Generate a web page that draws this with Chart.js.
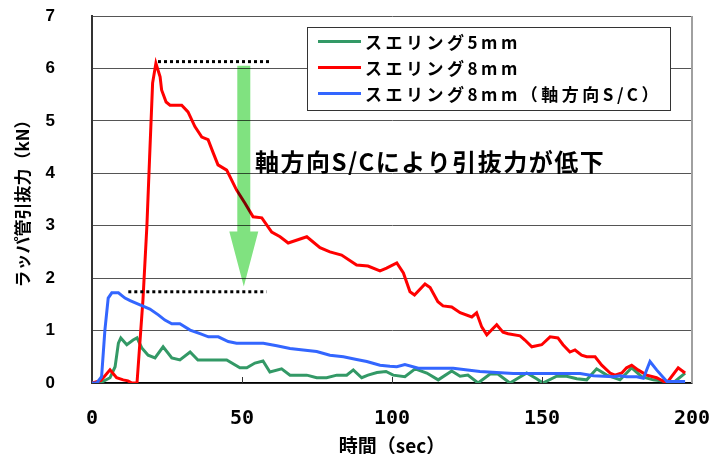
<!DOCTYPE html>
<html lang="ja">
<head>
<meta charset="utf-8">
<script src="https://cdn.jsdelivr.net/npm/chart.js@4"></script>
<style>
    html, body { margin: 0; padding: 0; background: #fff; }
    #wrap { width: 711px; height: 454px; position: relative; }
</style>
</head>
<body>
<div id="wrap"><canvas id="pullChart"></canvas></div>
<script>
// Series labels
const seriesLabels = ["スエリング5mm", "スエリング8mm", "スエリング8mm（軸方向S/C）"];

// スエリング5mm
const time5mm = [0, 2.7, 6, 7.7, 8.8, 9.6, 11.6, 13.7, 15, 16.6, 18.7, 21, 23.7, 26.6, 29.3, 32.7, 35.3, 44.9, 49.3, 51.6,
    54.3, 57, 59.3, 63.2, 66, 71.6, 74.9, 78.2, 81.6, 84.9, 87.1, 89.9, 92, 95, 98, 100.4, 104.3, 107.7, 111.6, 115.4,
    119.9, 122.7, 125.3, 128.7, 132.7, 135.3, 139.3, 144.9, 148.2, 150.3, 154.9, 158.2, 161.6, 164.9, 168.2, 171.6, 176,
    179.9, 183.2, 187.1, 190.3, 193.7, 197.7];
const force5mm = [0, 0, 0.1, 0.31, 0.76, 0.86, 0.73, 0.82, 0.86, 0.67, 0.53, 0.48, 0.69, 0.48, 0.44, 0.59, 0.44, 0.44, 0.29, 0.29,
    0.38, 0.42, 0.21, 0.27, 0.15, 0.15, 0.1, 0.1, 0.15, 0.15, 0.25, 0.1, 0.15, 0.2, 0.22, 0.15, 0.12, 0.27, 0.19, 0.06,
    0.23, 0.13, 0.15, 0, 0.17, 0.17, 0, 0.19, 0.08, 0, 0.13, 0.13, 0.08, 0.06, 0.27, 0.15, 0.06,
    0.29, 0.12, 0.06, 0.04, 0, 0.19];

// スエリング8mm
const time8mm = [0, 3, 6, 8.2, 10.4, 12, 13.3, 15, 17, 18.3, 19.2, 20.2, 21.3, 22.7, 23.2, 24.7, 26, 29.9, 32, 34.3, 36.6,
    38.7, 40.4, 42, 44.9, 48.2, 51, 53.7, 56.6, 59.9, 62.7, 65.4, 71.6, 76, 79.3, 83.2, 88.2, 92, 96, 98.2, 101.6, 103.8,
    106, 107.5, 111, 112.7, 115.3, 117, 119.9, 122.7, 126.6, 128.2, 129.9, 131.6, 134.9, 137, 138.7, 142.7, 144.3, 146.6,
    149.9, 152.7, 155.3, 157, 159.3, 161, 163.2, 164.9, 167.7, 169.9, 172.7, 174.3, 176.6, 178.2, 179.9, 182, 184.9,
    188.2, 191.6, 195.4, 197.7];
const force8mm = [0, 0.05, 0.25, 0.1, 0.06, 0.04, 0, 0, 1.6, 3.0, 4.3, 5.72, 6.1, 5.84, 5.59, 5.36, 5.3, 5.3, 5.17, 4.89, 4.69,
    4.64, 4.39, 4.16, 4.06, 3.68, 3.43, 3.17, 3.15, 2.88, 2.79, 2.67, 2.79, 2.58, 2.5, 2.44, 2.25, 2.23, 2.14, 2.19, 2.29, 2.1,
    1.74, 1.68, 1.89, 1.82, 1.55, 1.47, 1.45, 1.34, 1.26, 1.34, 1.07, 0.92, 1.11, 0.97, 0.94, 0.9, 0.82, 0.69,
    0.73, 0.88, 0.86, 0.73, 0.59, 0.63, 0.53, 0.5, 0.5, 0.34, 0.19, 0.15, 0.19, 0.29, 0.34, 0.25, 0.15,
    0.1, 0, 0.29, 0.19];

// スエリング8mm（軸方向S/C）
const time8mmSC = [0, 1.6, 3.2, 4.3, 5.4, 6.6, 8.8, 11, 12.7, 16, 19.3, 22.1, 24.3, 26.6, 29.3, 32.7, 36, 38.8, 42.1, 45.4,
    48.2, 57.1, 61.6, 66, 70.4, 74.9, 79.3, 83.8, 88.2, 91.6, 96, 99.3, 101.6, 104.3, 108.8, 120.4, 129.3, 140.4, 162.7,
    167.1, 173.8, 176, 178.2, 181.6, 183.8, 186, 188.2, 191.6, 197.7];
const force8mmSC = [0, 0, 0.12, 1.01, 1.62, 1.72, 1.72, 1.62, 1.57, 1.49, 1.41, 1.3, 1.2, 1.13, 1.13, 1.01, 0.94, 0.88, 0.88, 0.79,
    0.76, 0.76, 0.71, 0.66, 0.63, 0.6, 0.53, 0.5, 0.45, 0.41, 0.34, 0.32, 0.31, 0.35, 0.28, 0.28, 0.22, 0.18, 0.18,
    0.14, 0.12, 0.14, 0.12, 0.12, 0.09, 0.41, 0.25, 0.03, 0.03];

// Axis ticks
const xTicks = [0, 50, 100, 150, 200];
const yTicks = [0, 1, 2, 3, 4, 5, 6, 7];

// Annotation (data units)
const noteText = "軸方向S/Cにより引抜力が低下";
const peakLevels = [6.13, 1.74];
const peakRanges = [[22, 59.7], [12.1, 58.2]];
const arrowFrom = [50.6, 6.05];
const arrowTo = [50.6, 1.84];

const colors = ["#339966", "#ff0000", "#3366ff"];
const cjk = "'Noto Sans CJK JP', 'Noto Sans', sans-serif";

const toPoints = (xs, ys) => xs.map((x, i) => ({ x: x, y: ys[i] }));

const dataSets = [
    toPoints(time5mm, force5mm),
    toPoints(time8mm, force8mm),
    toPoints(time8mmSC, force8mmSC)
];

// keep the plot box where the original has it
const noPad = s => { s.paddingLeft = s.paddingRight = s.paddingTop = s.paddingBottom = 0; };

// Dotted lines, arrow, note, legend, right border, x inner ticks
const overlayPlugin = {
    id: "overlay",
    afterDatasetsDraw(chart) {
        const { ctx, chartArea: a, scales: { x, y } } = chart;
        ctx.save();

        // right frame
        ctx.strokeStyle = "#a0a0a0";
        ctx.lineWidth = 2;
        ctx.beginPath();
        ctx.moveTo(a.right, a.top);
        ctx.lineTo(a.right, a.bottom);
        ctx.stroke();

        // inner ticks on x axis
        ctx.strokeStyle = "#333";
        ctx.lineWidth = 1;
        xTicks.slice(1, -1).forEach(v => {
            const px = Math.round(x.getPixelForValue(v)) + 0.5;
            ctx.beginPath();
            ctx.moveTo(px, a.bottom);
            ctx.lineTo(px, a.bottom - 6);
            ctx.stroke();
        });

        // dotted peak lines
        ctx.strokeStyle = "#000";
        ctx.lineWidth = 3;
        ctx.setLineDash([3, 3]);
        peakLevels.forEach((lv, i) => {
            const py = y.getPixelForValue(lv);
            ctx.beginPath();
            ctx.moveTo(x.getPixelForValue(peakRanges[i][0]), py);
            ctx.lineTo(x.getPixelForValue(peakRanges[i][1]), py);
            ctx.stroke();
        });
        ctx.setLineDash([]);

        // green arrow
        const ax = x.getPixelForValue(arrowFrom[0]);
        const top = y.getPixelForValue(arrowFrom[1]);
        const tip = y.getPixelForValue(arrowTo[1]);
        const headH = 55, shaftW = 13, headW = 29;
        ctx.globalCompositeOperation = "multiply";
        ctx.fillStyle = "rgb(128,226,128)";
        ctx.beginPath();
        ctx.moveTo(ax - shaftW / 2, top);
        ctx.lineTo(ax + shaftW / 2, top);
        ctx.lineTo(ax + shaftW / 2, tip - headH);
        ctx.lineTo(ax + headW / 2, tip - headH);
        ctx.lineTo(ax, tip);
        ctx.lineTo(ax - headW / 2, tip - headH);
        ctx.lineTo(ax - shaftW / 2, tip - headH);
        ctx.closePath();
        ctx.fill();
        ctx.globalCompositeOperation = "source-over";

        // note
        ctx.fillStyle = "#000";
        ctx.font = "bold 24px " + cjk;
        ctx.letterSpacing = "1.5px";
        ctx.textBaseline = "middle";
        ctx.textAlign = "left";
        ctx.fillText(noteText, 255, 162);

        // legend
        const lx = 307, ly = 27, lw = 363, lh = 83;
        ctx.fillStyle = "#fff";
        ctx.fillRect(lx, ly, lw, lh);
        ctx.strokeStyle = "#333";
        ctx.lineWidth = 1;
        ctx.strokeRect(lx + 0.5, ly + 0.5, lw, lh);
        ctx.font = "bold 17px " + cjk;
        ctx.letterSpacing = "3.5px";
        seriesLabels.forEach((lab, i) => {
            const ry = 41.5 + i * 26;
            ctx.strokeStyle = colors[i];
            ctx.lineWidth = 3;
            ctx.beginPath();
            ctx.moveTo(318, ry);
            ctx.lineTo(361, ry);
            ctx.stroke();
            ctx.fillStyle = "#000";
            ctx.fillText(lab, 365, ry + 1);
        });

        ctx.restore();
    }
};

new Chart(document.getElementById("pullChart"), {
    type: "line",
    data: {
        datasets: dataSets.map((pts, i) => ({
            label: seriesLabels[i],
            data: pts,
            borderColor: colors[i],
            backgroundColor: colors[i],
            borderWidth: 3,
            pointRadius: 0,
            tension: 0,
            fill: false,
            order: 2 - i
        }))
    },
    options: {
        responsive: true,
        maintainAspectRatio: false,
        animation: false,
        layout: { padding: { top: 16, right: 19, left: 0, bottom: 0 } },
        plugins: {
            legend: { display: false },
            tooltip: { enabled: false }
        },
        scales: {
            x: {
                type: "linear",
                min: 0,
                max: 200,
                afterBuildTicks: s => { s.ticks = xTicks.map(v => ({ value: v })); },
                afterFit: s => { s.height = 71; noPad(s); },
                grid: { display: false, drawTicks: false },
                border: { display: true, color: "#000", width: 1.5 },
                ticks: {
                    padding: 24,
                    color: "#000",
                    maxRotation: 0,
                    font: { family: "'DejaVu Sans Mono', monospace", size: 20, weight: "bold" }
                },
                title: {
                    display: true,
                    text: "時間（sec）",
                    color: "#000",
                    padding: { top: 0, bottom: -1 },
                    font: { family: cjk, size: 19, weight: "bold", lineHeight: 1 }
                }
            },
            y: {
                min: 0,
                max: 7,
                afterBuildTicks: s => { s.ticks = yTicks.map(v => ({ value: v })); },
                afterFit: s => { s.width = 92; noPad(s); },
                grid: { color: "#555", lineWidth: 1, drawTicks: false },
                border: { display: true, color: "#333", width: 2 },
                ticks: {
                    padding: 37,
                    color: "#000",
                    font: { family: "'Liberation Sans', Arial, sans-serif", size: 17, weight: "bold" }
                },
                title: {
                    display: true,
                    text: "ラッパ管引抜力（kN）",
                    color: "#000",
                    padding: { top: 14, bottom: 0 },
                    font: { family: cjk, size: 17, weight: "bold", lineHeight: 1 }
                }
            }
        }
    },
    plugins: [overlayPlugin]
});
</script>
</body>
</html>
